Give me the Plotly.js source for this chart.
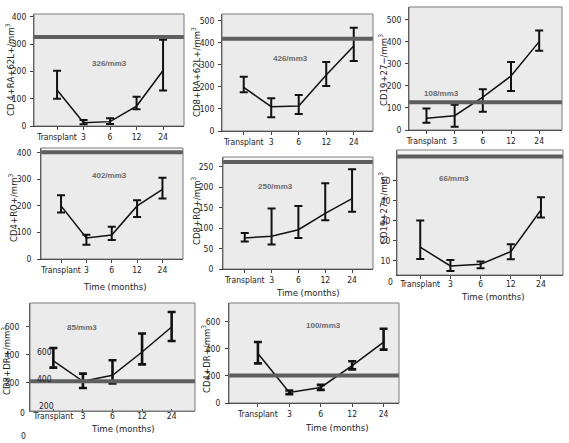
<!DOCTYPE html>
<html>
<head>
<meta charset="utf-8">
<script src="https://cdn.plot.ly/plotly-3.0.1.min.js"></script>
<style>html,body{margin:0;padding:0;background:#fff;}#chart{width:569px;height:443px;}</style>
</head>
<body>
<div id="chart"></div>
<script>
// ---------------- DATA ----------------
const months = ["Transplant", "3", "6", "12", "24"];

const cd4RA62L_mean = [132, 12, 16, 73, 203];
const cd4RA62L_hi   = [202, 22, 28, 107, 316];
const cd4RA62L_lo   = [100, 6, 7, 61, 130];
const cd4RA62L_ref  = 326;

const cd8RA62L_mean = [198, 110, 113, 254, 385];
const cd8RA62L_hi   = [246, 148, 163, 313, 468];
const cd8RA62L_lo   = [175, 62, 77, 204, 317];
const cd8RA62L_ref  = 418;

const cd19neg_mean = [53, 65, 149, 245, 401];
const cd19neg_hi   = [98, 114, 185, 309, 451];
const cd19neg_lo   = [33, 15, 83, 177, 359];
const cd19neg_ref  = 126;

const cd4RO_mean = [200, 79, 90, 200, 262];
const cd4RO_hi   = [240, 91, 121, 221, 306];
const cd4RO_lo   = [175, 54, 72, 158, 228];
const cd4RO_ref  = 402;

const cd8RO_mean = [76, 80, 96, 136, 172];
const cd8RO_hi   = [88, 148, 154, 210, 244];
const cd8RO_lo   = [67, 60, 76, 119, 140];
const cd8RO_ref  = 262;

const cd19pos_mean = [16.7, 7.3, 8.2, 14.5, 35.3];
const cd19pos_hi   = [30, 10.3, 9.5, 18.2, 41.7];
const cd19pos_lo   = [10.8, 4.8, 6.2, 10.7, 31.5];
const cd19pos_ref  = 62;

const cd8DR_mean = [357, 212, 255, 421, 600];
const cd8DR_hi   = [450, 267, 362, 553, 707];
const cd8DR_lo   = [310, 164, 196, 333, 500];
const cd8DR_ref  = 212;

const cd4DR_mean = [366, 78, 115, 276, 451];
const cd4DR_hi   = [451, 93, 134, 309, 549];
const cd4DR_lo   = [293, 66, 97, 249, 395];
const cd4DR_ref  = 203;

const yTitles = [
  "CD 4+RA+62L+/mm<sup>3</sup>", "CD8+RA+62L+/mm<sup>3</sup>", "CD19+27\u2212/mm<sup>3</sup>",
  "CD4+RO+/mm<sup>3</sup>", "CD8+RO+/mm<sup>3</sup>", "CD19+27+/mm<sup>3</sup>",
  "CD8+DR+/mm<sup>3</sup>", "CD4+DR+/mm<sup>3</sup>"
];
const refLabels = ["326/mm3", "426/mm3", "108/mm3", "402/mm3", "250/mm3", "66/mm3", "85/mm3", "100/mm3"];
const xTitle = "Time (months)";
const yTicks = [
  [0, 100, 200, 300, 400], [0, 100, 200, 300, 400, 500], [0, 100, 200, 300, 400, 500],
  [0, 100, 200, 300, 400], [0, 50, 100, 150, 200, 250], [10, 20, 30, 40, 50],
  [200, 400, 600], [0, 200, 400, 600]
];
const strayLabels = ["600", "400", "200", "0", "0", "0"];

const series = [
  [cd4RA62L_mean, cd4RA62L_hi, cd4RA62L_lo, cd4RA62L_ref],
  [cd8RA62L_mean, cd8RA62L_hi, cd8RA62L_lo, cd8RA62L_ref],
  [cd19neg_mean, cd19neg_hi, cd19neg_lo, cd19neg_ref],
  [cd4RO_mean, cd4RO_hi, cd4RO_lo, cd4RO_ref],
  [cd8RO_mean, cd8RO_hi, cd8RO_lo, cd8RO_ref],
  [cd19pos_mean, cd19pos_hi, cd19pos_lo, cd19pos_ref],
  [cd8DR_mean, cd8DR_hi, cd8DR_lo, cd8DR_ref],
  [cd4DR_mean, cd4DR_hi, cd4DR_lo, cd4DR_ref]
];

// ---------------- LAYOUT (pixel geometry) ----------------
const W = 569, H = 443;
const panels = [
  {l: 34,  r: 184, t: 14,  b: 126, xr: [-0.87, 4.79], yr: [0, 410],  yt: [10, 70],   lab: [109, 63],   band: false, std: 2, xstd: 0,  xtick: "outside", xt: null},
  {l: 222, r: 373, t: 14,  b: 131, xr: [-0.79, 4.70], yr: [0, 530],  yt: [196, 72],  lab: [290, 58],   band: false, std: 2, xstd: 0,  xtick: "outside", xt: null},
  {l: 409, r: 562, t: 7,   b: 130, xr: [-0.62, 4.81], yr: [0, 558],  yt: [383, 70],  lab: [442, 94],   band: false, std: 2, xstd: 0,  xtick: "outside", xt: null},
  {l: 41,  r: 183, t: 148, b: 259, xr: [-0.79, 4.81], yr: [0, 418],  yt: [13, 208],  lab: [109, 175],  band: true,  std: 4, xstd: 0,  xtick: "outside", xt: [114, 286]},
  {l: 223, r: 373, t: 157, b: 269, xr: [-0.81, 4.78], yr: [0, 274],  yt: [196, 211], lab: [275, 186],  band: true,  std: 4, xstd: 0,  xtick: "outside", xt: [307, 292]},
  {l: 397, r: 563, t: 150, b: 275, xr: [-0.77, 4.73], yr: [2.8, 65.3], yt: [383, 208], lab: [454, 178], band: true,  std: 1, xstd: -2, xtick: "outside", xt: [492, 296]},
  {l: 30,  r: 195, t: 303, b: 411, xr: [-0.79, 4.79], yr: [0, 771],  yt: [6, 361],   lab: [82, 327],   band: false, std: 5, xstd: -3, xtick: "inside",  xt: [122, 428]},
  {l: 229, r: 399, t: 303, b: 403, xr: [-0.92, 4.49], yr: [0, 740],  yt: [206, 359], lab: [323, 325],  band: false, std: 3, xstd: 0,  xtick: "outside", xt: [337, 427]}
];

const FONT = "DejaVu Sans Condensed, Liberation Sans Narrow, Arial Narrow, Liberation Sans, sans-serif";
const tickFont = {family: FONT, size: 8.5, color: "#222"};
const px = x => x / W, py = y => 1 - y / H;

const data = [];
const layout = {
  width: W, height: H,
  margin: {l: 0, r: 0, t: 0, b: 0},
  paper_bgcolor: "#ffffff",
  plot_bgcolor: "#ebebeb",
  showlegend: false,
  shapes: [],
  annotations: []
};

panels.forEach((p, i) => {
  const n = i + 1;
  const xa = n === 1 ? "x" : "x" + n, ya = n === 1 ? "y" : "y" + n;
  const [mean, hi, lo, ref] = series[i];
  const thick = i >= 6 ? 2.6 : 2;
  data.push({
    type: "scatter", mode: "lines",
    x: months, y: mean, xaxis: xa, yaxis: ya,
    line: {color: "#111", width: 1.5},
    error_y: {
      type: "data", symmetric: false,
      array: hi.map((h, k) => h - mean[k]),
      arrayminus: lo.map((v, k) => mean[k] - v),
      color: "#111", thickness: thick, width: 4
    },
    hoverinfo: "skip"
  });
  layout["xaxis" + (n === 1 ? "" : n)] = {
    domain: [px(p.l), px(p.r)], anchor: ya,
    type: "category", range: p.xr,
    showgrid: false, zeroline: false,
    showline: true, linecolor: i === 6 ? "#7a7a7a" : "#222", linewidth: 1,
    ticks: p.xtick, ticklen: p.xtick === "inside" ? 2 : 3, tickcolor: "#444",
    tickangle: 0, automargin: false, ticklabelstandoff: p.xstd,
    tickfont: tickFont, fixedrange: true
  };
  layout["yaxis" + (n === 1 ? "" : n)] = {
    domain: [py(p.b), py(p.t)], anchor: xa,
    range: p.yr, tickvals: yTicks[i],
    showgrid: false, zeroline: false,
    showline: true, linecolor: "#444", linewidth: 1,
    ticks: "outside", ticklen: 3, tickcolor: "#444",
    ticklabelstandoff: p.std, automargin: false,
    tickfont: tickFont, fixedrange: true
  };
  const xd = xa + " domain", yd = ya + " domain";
  if (p.band) {
    layout.shapes.push({type: "rect", xref: xd, yref: ya, x0: 0, x1: 1, y0: ref, y1: p.yr[1],
      fillcolor: "#f6f6f6", line: {width: 0}, layer: "below"});
  }
  layout.shapes.push({type: "line", xref: xd, yref: ya, x0: 0, x1: 1, y0: ref, y1: ref,
    line: {color: "#5e5e5e", width: 4}});
  layout.shapes.push({type: "rect", xref: xd, yref: yd, x0: 0, x1: 1, y0: 0, y1: 1,
    line: {color: "#7a7a7a", width: 1}, fillcolor: "rgba(0,0,0,0)"});
  // y title
  layout.annotations.push({xref: "paper", yref: "paper", x: px(p.yt[0]), y: py(p.yt[1]),
    text: yTitles[i], textangle: -90, showarrow: false, xanchor: "center", yanchor: "middle",
    font: {family: FONT, size: 9.5, color: "#222"}});
  // reference label
  layout.annotations.push({xref: "paper", yref: "paper", x: px(p.lab[0]), y: py(p.lab[1]),
    text: "<b>" + refLabels[i] + "</b>", showarrow: false, xanchor: "center", yanchor: "middle",
    font: {family: "Liberation Sans, Arial, sans-serif", size: 8, color: "#6a6a6a"}});
  if (p.xt) {
    layout.annotations.push({xref: "paper", yref: "paper", x: px(p.xt[0]), y: py(p.xt[1]),
      text: xTitle, showarrow: false, xanchor: "center", yanchor: "middle",
      font: {family: FONT, size: 9.5, color: "#222"}});
  }
});

// zero labels drawn beside axes, and stray labels overlapping the CD8+DR+ panel
const strayPos = [[44, 352], [44, 379], [46, 406], [23, 436], [390, 282], [22, 413]];
strayLabels.forEach((t, k) => {
  layout.annotations.push({xref: "paper", yref: "paper", x: px(strayPos[k][0]), y: py(strayPos[k][1]),
    text: t, showarrow: false, xanchor: "center", yanchor: "middle", font: tickFont});
});

Plotly.newPlot("chart", data, layout, {staticPlot: true, displayModeBar: false});
</script>
</body>
</html>
